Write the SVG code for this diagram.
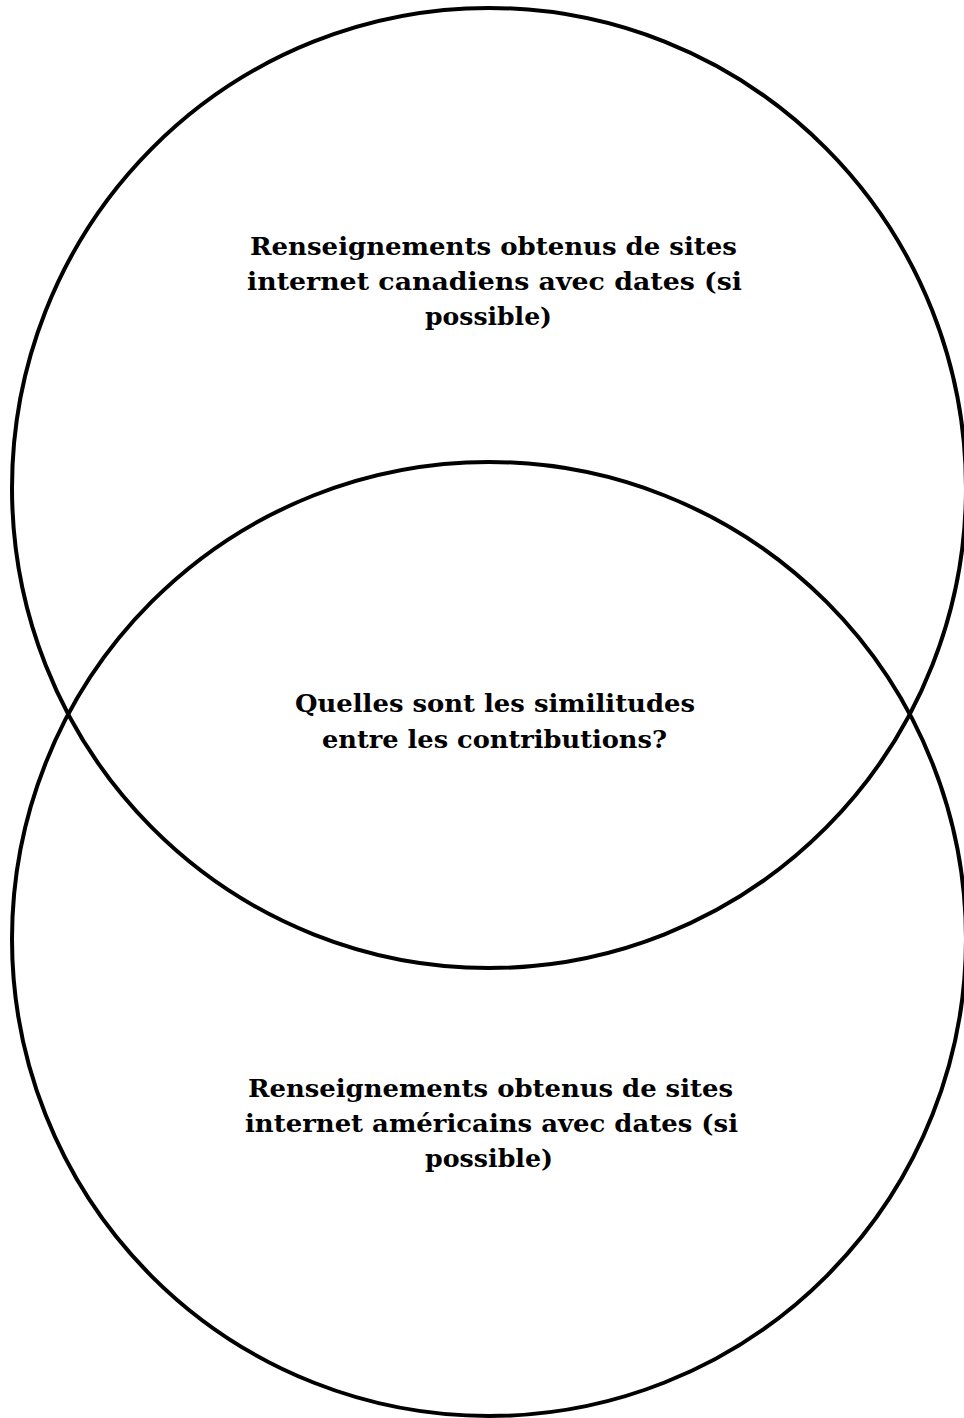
<svg xmlns="http://www.w3.org/2000/svg" width="964" height="1418" viewBox="0 0 964 1418">
  <style>
    .ring { fill: none; stroke: #000; stroke-width: 4; }
    .lbl { font-family: "DejaVu Serif", "Liberation Serif", serif; font-weight: bold; font-size: 25px; fill: #000; text-anchor: middle; }
  </style>
  <rect width="964" height="1418" fill="#fff"/>
  <g id="circle-canada">
    <ellipse class="ring" cx="489" cy="488" rx="477" ry="480"/>
    <text class="lbl" x="493.5" y="255" textLength="487" lengthAdjust="spacingAndGlyphs">Renseignements obtenus de sites</text>
    <text class="lbl" x="494.5" y="290" textLength="495" lengthAdjust="spacingAndGlyphs">internet canadiens avec dates (si</text>
    <text class="lbl" x="488.5" y="325" textLength="127" lengthAdjust="spacingAndGlyphs">possible)</text>
  </g>
  <g id="circle-usa">
    <ellipse class="ring" cx="489" cy="939" rx="477" ry="477"/>
    <text class="lbl" x="490.5" y="1097" textLength="485" lengthAdjust="spacingAndGlyphs">Renseignements obtenus de sites</text>
    <text class="lbl" x="491.5" y="1132" textLength="493" lengthAdjust="spacingAndGlyphs">internet américains avec dates (si</text>
    <text class="lbl" x="489" y="1167" textLength="128" lengthAdjust="spacingAndGlyphs">possible)</text>
  </g>
  <g id="overlap">
    <text class="lbl" x="495" y="712" textLength="400" lengthAdjust="spacingAndGlyphs">Quelles sont les similitudes</text>
    <text class="lbl" x="494.5" y="748" textLength="345" lengthAdjust="spacingAndGlyphs">entre les contributions?</text>
  </g>
  <g id="connectors"/>
</svg>
